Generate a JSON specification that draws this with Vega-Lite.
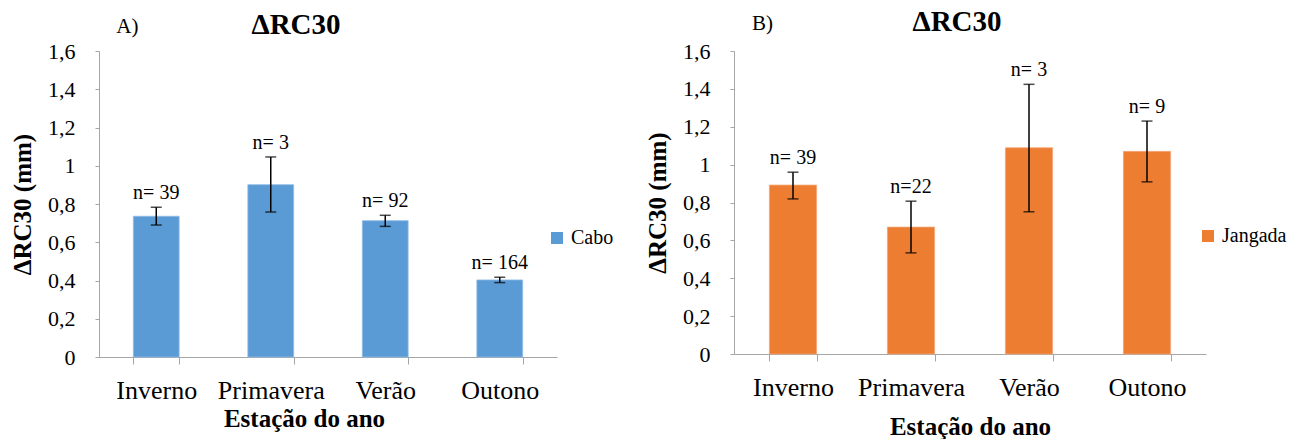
{
  "$schema": "https://vega.github.io/schema/vega-lite/v6.json",
  "background": "white",
  "padding": {"left": 10, "top": 8, "right": 0, "bottom": 0},
  "spacing": 31,
  "resolve": {"scale": {"x": "independent", "y": "independent", "color": "independent"}, "axis": {"x": "independent", "y": "independent"}, "legend": {"color": "independent"}},
  "config": {
    "view": {"stroke": null},
    "font": "Liberation Serif",
    "text": {"font": "Liberation Serif"},
    "axis": {"labelFont": "Liberation Serif", "titleFont": "Liberation Serif", "labelColor": "black", "titleColor": "black", "titleFontWeight": "bold", "grid": false, "tickColor": "#a6a6a6", "domainColor": "#a6a6a6"},
    "axisY": {"labelFont": "Liberation Serif", "labelFontSize": 22, "titleFont": "Liberation Serif", "titleFontSize": 25},
    "axisX": {"labelFontSize": 26, "titleFontSize": 25, "labelPadding": 13, "tickSize": 7, "labelAngle": 0, "tickBand": "extent"},
    "legend": {"labelFont": "Liberation Serif", "labelColor": "black", "labelFontSize": 20}
  },
  "hconcat": [
    {
      "width": 458,
      "height": 306,
      "title": {"text": "ΔRC30", "font": "Liberation Serif", "fontSize": 29, "fontWeight": "bold", "color": "black", "anchor": "middle", "dx": -32, "offset": -24},
      "data": {"values": [
        {"estacao": "Inverno", "serie": "Cabo", "media": 0.736, "lo": 0.690, "hi": 0.783, "label": "n= 39"},
        {"estacao": "Primavera", "serie": "Cabo", "media": 0.901, "lo": 0.758, "hi": 1.046, "label": "n= 3"},
        {"estacao": "Verão", "serie": "Cabo", "media": 0.713, "lo": 0.683, "hi": 0.741, "label": "n= 92"},
        {"estacao": "Outono", "serie": "Cabo", "media": 0.403, "lo": 0.389, "hi": 0.417, "label": "n= 164"}
      ]},
      "resolve": {"axis": {"y": "independent"}},
      "encoding": {
        "x": {"field": "estacao", "type": "nominal", "sort": ["Inverno", "Primavera", "Verão", "Outono"],
          "scale": {"domain": ["Inverno", "Primavera", "Verão", "Outono"], "paddingInner": 0.6, "paddingOuter": 0.3},
          "axis": {"title": "Estação do ano", "titleX": 205, "titlePadding": 3}}
      },
      "layer": [
        {
          "mark": {"type": "bar", "stroke": "#8fbbe6", "strokeWidth": 0.8},
          "encoding": {
            "y": {"field": "media", "type": "quantitative", "title": "ΔRC30 (mm)",
              "scale": {"domain": [0, 1.6], "nice": false, "zero": true},
              "axis": {"title": "ΔRC30 (mm)", "values": [0, 0.2, 0.4, 0.6, 0.8, 1, 1.2, 1.4, 1.6], "labelOverlap": false,
                "labelExpr": "replace(format(datum.value, '.1~f'), '.', ',')",
                "labelFont": "Liberation Serif", "labelFontSize": 22, "labelColor": "black", "labelPadding": 20, "tickSize": 4,
                "titleFont": "Liberation Serif", "titleFontSize": 25, "titleFontWeight": "bold", "titlePadding": 12}},
            "color": {"field": "serie", "type": "nominal", "scale": {"domain": ["Cabo"], "range": ["#5B9BD5"]},
              "legend": {"orient": "none", "legendX": 448, "legendY": 177, "title": null, "symbolType": "square", "symbolSize": 144, "symbolStrokeWidth": 0,
                "labelFont": "Liberation Serif", "labelFontSize": 20, "labelOffset": 4, "padding": 0}}
          }
        },
        {
          "mark": {"type": "errorbar", "ticks": true, "size": 11, "thickness": 1.5, "color": "black"},
          "encoding": {
            "y": {"field": "lo", "type": "quantitative", "axis": null},
            "y2": {"field": "hi"}
          }
        },
        {
          "mark": {"type": "text", "font": "Liberation Serif", "fontSize": 20, "color": "black", "baseline": "alphabetic", "dy": -8},
          "encoding": {
            "y": {"field": "hi", "type": "quantitative", "axis": null},
            "text": {"field": "label"}
          }
        },
        {
          "data": {"values": [{"estacao": "Inverno", "letra": "A)"}]},
          "mark": {"type": "text", "font": "Liberation Serif", "fontSize": 21, "color": "black", "baseline": "alphabetic", "align": "left", "dx": -40, "dy": -18},
          "encoding": {
            "y": {"datum": 1.6, "type": "quantitative", "axis": null},
            "text": {"field": "letra"}
          }
        }
      ]
    },
    {
      "width": 472,
      "height": 303,
      "title": {"text": "ΔRC30", "font": "Liberation Serif", "fontSize": 29, "fontWeight": "bold", "color": "black", "anchor": "middle", "dx": -13, "offset": -24},
      "data": {"values": [
        {"estacao": "Inverno", "serie": "Jangada", "media": 0.892, "lo": 0.819, "hi": 0.960, "label": "n= 39"},
        {"estacao": "Primavera", "serie": "Jangada", "media": 0.670, "lo": 0.534, "hi": 0.807, "label": "n=22"},
        {"estacao": "Verão", "serie": "Jangada", "media": 1.089, "lo": 0.751, "hi": 1.424, "label": "n= 3"},
        {"estacao": "Outono", "serie": "Jangada", "media": 1.070, "lo": 0.909, "hi": 1.230, "label": "n= 9"}
      ]},
      "resolve": {"axis": {"y": "independent"}},
      "encoding": {
        "x": {"field": "estacao", "type": "nominal", "sort": ["Inverno", "Primavera", "Verão", "Outono"],
          "scale": {"domain": ["Inverno", "Primavera", "Verão", "Outono"], "paddingInner": 0.6, "paddingOuter": 0.3},
          "axis": {"title": "Estação do ano", "titlePadding": 14}}
      },
      "layer": [
        {
          "mark": {"type": "bar", "stroke": "#f4a77a", "strokeWidth": 0.8},
          "encoding": {
            "y": {"field": "media", "type": "quantitative", "title": "ΔRC30 (mm)",
              "scale": {"domain": [0, 1.6], "nice": false, "zero": true},
              "axis": {"title": "ΔRC30 (mm)", "values": [0, 0.2, 0.4, 0.6, 0.8, 1, 1.2, 1.4, 1.6], "labelOverlap": false,
                "labelExpr": "replace(format(datum.value, '.1~f'), '.', ',')",
                "labelFont": "Liberation Serif", "labelFontSize": 22, "labelColor": "black", "labelPadding": 20, "tickSize": 4,
                "titleFont": "Liberation Serif", "titleFontSize": 25, "titleFontWeight": "bold", "titlePadding": 12}},
            "color": {"field": "serie", "type": "nominal", "scale": {"domain": ["Jangada"], "range": ["#ED7D31"]},
              "legend": {"orient": "none", "legendX": 464, "legendY": 175, "title": null, "symbolType": "square", "symbolSize": 144, "symbolStrokeWidth": 0,
                "labelFont": "Liberation Serif", "labelFontSize": 20, "labelOffset": 4, "padding": 0}}
          }
        },
        {
          "mark": {"type": "errorbar", "ticks": true, "size": 11, "thickness": 1.5, "color": "black"},
          "encoding": {
            "y": {"field": "lo", "type": "quantitative", "axis": null},
            "y2": {"field": "hi"}
          }
        },
        {
          "mark": {"type": "text", "font": "Liberation Serif", "fontSize": 20, "color": "black", "baseline": "alphabetic", "dy": -8},
          "encoding": {
            "y": {"field": "hi", "type": "quantitative", "axis": null},
            "text": {"field": "label"}
          }
        },
        {
          "data": {"values": [{"estacao": "Inverno", "letra": "B)"}]},
          "mark": {"type": "text", "font": "Liberation Serif", "fontSize": 21, "color": "black", "baseline": "alphabetic", "align": "left", "dx": -41, "dy": -21},
          "encoding": {
            "y": {"datum": 1.6, "type": "quantitative", "axis": null},
            "text": {"field": "letra"}
          }
        }
      ]
    }
  ]
}
